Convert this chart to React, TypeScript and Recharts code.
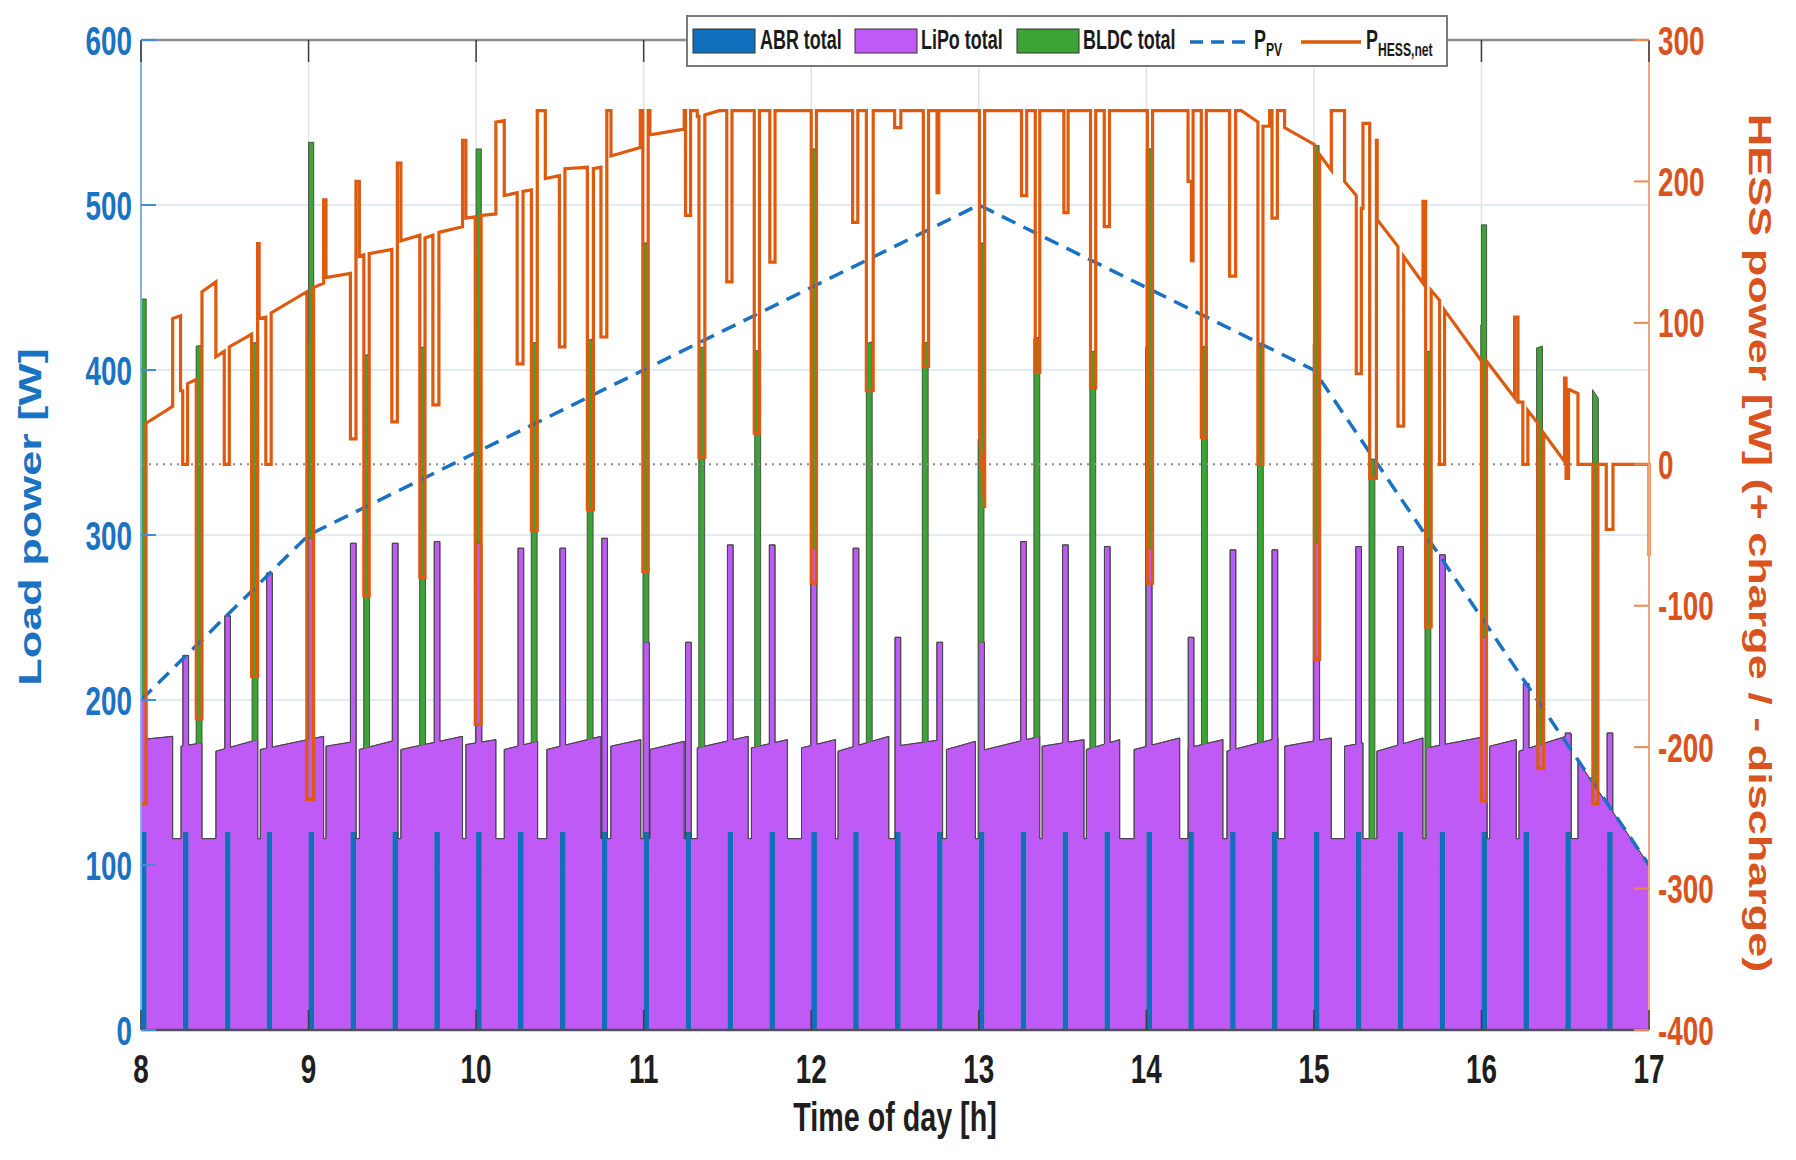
import React from "react";
import {
  Area,
  CartesianGrid,
  ComposedChart,
  Line,
  ReferenceLine,
  XAxis,
  YAxis,
} from "recharts";

// axis ticks
const hourTicks = [8, 9, 10, 11, 12, 13, 14, 15, 16, 17];
const loadTicks = [0, 100, 200, 300, 400, 500, 600];
const hessTicks = [-400, -300, -200, -100, 0, 100, 200, 300];

// ABR pulses (start hour), level in W
const abrPulseHours = [
  8, 8.25, 8.5, 8.75, 9, 9.25, 9.5, 9.75, 10, 10.25, 10.5, 10.75, 11, 11.25,
  11.5, 11.75, 12, 12.25, 12.5, 12.75, 13, 13.25, 13.5, 13.75, 14, 14.25, 14.5,
  14.75, 15, 15.25, 15.5, 15.75, 16, 16.25, 16.5, 16.75,
];
const abrPulseLevel = 120;
const pulseWidth = 0.034;

// ABR + LiPo level during each pulse [hour, W]
const lipoSpikes: [number, number][] = [
  [8, 200], [8.25, 227], [8.5, 251], [8.75, 277], [9, 298], [9.25, 295],
  [9.5, 295], [9.75, 296], [10, 295], [10.25, 292], [10.5, 292], [10.75, 298],
  [11, 235], [11.25, 235], [11.5, 294], [11.75, 294], [12, 292], [12.25, 292],
  [12.5, 238], [12.75, 235], [13, 235], [13.25, 296], [13.5, 294], [13.75, 293],
  [14, 292], [14.25, 238], [14.5, 291], [14.75, 291], [15, 295], [15.25, 293],
  [15.5, 293], [15.75, 288], [16, 238], [16.25, 210], [16.5, 180], [16.75, 180],
];

// ABR + LiPo between pulses: [from h, to h, W at start, W at end]
const lipoSegments: [number, number, number, number][] = [
  [8.0, 8.189, 176, 178], [8.239, 8.364, 172, 174], [8.447, 8.696, 169, 176],
  [8.712, 9.09, 170, 178], [9.104, 9.283, 172, 175], [9.303, 9.531, 170, 176],
  [9.551, 9.919, 170, 178], [9.939, 10.118, 173, 176], [10.168, 10.367, 170, 175],
  [10.422, 10.745, 170, 178], [10.804, 10.983, 172, 176], [11.037, 11.242, 170, 175],
  [11.32, 11.624, 171, 178], [11.643, 11.858, 171, 176], [11.942, 12.145, 171, 176],
  [12.16, 12.463, 169, 178], [12.5, 12.78, 172, 176], [12.807, 12.98, 170, 175],
  [13.0, 13.364, 169, 178], [13.378, 13.628, 172, 176], [13.642, 13.841, 170, 176],
  [13.927, 14.199, 170, 177], [14.249, 14.457, 171, 176], [14.481, 14.786, 169, 177],
  [14.826, 15.104, 172, 177], [15.183, 15.293, 172, 174], [15.376, 15.651, 169, 177],
  [15.671, 16.03, 171, 178], [16.049, 16.208, 172, 176], [16.224, 16.536, 169, 179],
  [16.576, 17.0, 163, 100],
];
const lipoGapLevel = 116;

// BLDC pulses [hour, W]
const bldcPulses: [number, number][] = [
  [8.0, 243], [8.333, 241], [8.667, 241], [9.0, 240], [9.333, 238], [9.667, 241],
  [10.0, 239], [10.333, 242], [10.667, 242], [11.0, 242], [11.333, 242], [11.667, 240],
  [12.0, 242], [12.333, 242], [12.667, 242], [13.0, 242], [13.333, 242], [13.667, 240],
  [14.0, 242], [14.333, 241], [14.667, 242], [15.0, 241], [15.333, 230], [15.667, 240],
  [16.0, 250], [16.333, 241], [16.667, 238],
];
const bldcWidth = 0.035;

// PV power [hour, W]
const pvPoints: [number, number][] = [
  [8, 200], [9, 300], [10, 350], [11, 400], [12, 450],
  [13, 500], [14, 450], [15, 400], [16, 250], [17, 100],
];

// HESS net power [hour, W]
const hessPoints: [number, number][] = [
  [8.0, -240], [8.03, -240], [8.03, 29], [8.189, 41], [8.189, 103], [8.236, 105],
  [8.236, 52], [8.249, 52], [8.249, 0], [8.278, 0], [8.278, 57], [8.33, 60],
  [8.33, -180], [8.364, -180], [8.364, 122], [8.447, 129], [8.447, 76], [8.497, 80],
  [8.497, 0], [8.527, 0], [8.527, 83], [8.66, 92], [8.66, -150], [8.696, -150],
  [8.696, 156], [8.705, 156], [8.705, 103], [8.745, 104], [8.745, 0], [8.777, 0],
  [8.777, 107], [8.99, 122], [8.99, -237], [9.03, -237], [9.03, 125], [9.09, 128],
  [9.09, 187], [9.104, 187], [9.104, 132], [9.25, 135], [9.25, 18], [9.283, 18],
  [9.283, 200], [9.303, 200], [9.303, 147], [9.33, 148], [9.33, -93], [9.362, -93],
  [9.362, 149], [9.497, 152], [9.497, 30], [9.53, 30], [9.53, 213], [9.551, 213],
  [9.551, 158], [9.664, 162], [9.664, -80], [9.695, -80], [9.695, 160], [9.742, 162],
  [9.742, 42], [9.778, 42], [9.778, 164], [9.919, 168], [9.919, 229], [9.939, 229],
  [9.939, 174], [9.995, 175], [9.995, -184], [10.03, -184], [10.03, 176], [10.118, 177],
  [10.118, 242], [10.168, 243], [10.168, 190], [10.245, 192], [10.245, 71], [10.28, 71],
  [10.28, 193], [10.33, 194], [10.33, -47], [10.365, -47], [10.365, 250], [10.413, 250],
  [10.413, 202], [10.497, 204], [10.497, 83], [10.53, 83], [10.53, 209], [10.664, 210],
  [10.664, -32], [10.7, -32], [10.7, 209], [10.745, 210], [10.745, 90], [10.78, 90],
  [10.78, 250], [10.805, 250], [10.805, 218], [10.98, 224], [10.98, 250], [10.995, 250],
  [10.995, -76], [11.027, -76], [11.027, 250], [11.037, 250], [11.037, 233], [11.242, 237],
  [11.242, 250], [11.25, 250], [11.25, 176], [11.28, 176], [11.28, 250], [11.32, 250],
  [11.32, 246], [11.33, 246], [11.33, 5], [11.365, 5], [11.365, 247], [11.45, 250],
  [11.496, 250], [11.496, 129], [11.527, 129], [11.527, 250],
  [11.66, 250], [11.66, 22], [11.691, 22], [11.691, 250],
  [11.753, 250], [11.753, 143], [11.784, 143], [11.784, 250],
  [12.0, 250], [12.0, -84], [12.031, -84], [12.031, 250],
  [12.247, 250], [12.247, 171], [12.278, 171], [12.278, 250],
  [12.329, 250], [12.329, 52], [12.37, 52], [12.37, 250],
  [12.498, 250], [12.498, 238], [12.535, 238], [12.535, 250],
  [12.669, 250], [12.669, 69], [12.7, 69], [12.7, 250],
  [12.751, 250], [12.751, 192], [12.761, 192], [12.761, 250],
  [13.004, 250], [13.004, 24], [13.035, -31], [13.035, 250],
  [13.255, 250], [13.255, 190], [13.286, 190], [13.286, 250],
  [13.337, 250], [13.337, 65], [13.364, 65], [13.364, 250],
  [13.508, 250], [13.508, 178], [13.533, 178], [13.533, 250],
  [13.667, 250], [13.667, 54], [13.698, 54], [13.698, 250],
  [13.749, 250], [13.749, 168], [13.78, 168], [13.78, 250],
  [14.006, 250], [14.006, -84], [14.037, -84], [14.037, 250],
  [14.249, 250], [14.249, 200], [14.269, 200], [14.269, 144], [14.279, 144], [14.279, 250],
  [14.328, 250], [14.328, 19], [14.358, 19], [14.358, 250],
  [14.497, 250], [14.497, 133], [14.533, 133], [14.533, 250],
  [14.567, 250], [14.666, 242], [14.666, 0], [14.696, 0], [14.696, 239], [14.736, 239],
  [14.736, 250], [14.75, 250], [14.75, 174], [14.782, 174], [14.782, 250],
  [14.825, 250], [14.825, 238], [15.004, 226], [15.004, -138], [15.034, -138],
  [15.034, 219], [15.104, 208], [15.104, 250], [15.183, 250], [15.183, 200],
  [15.253, 190], [15.253, 64], [15.283, 64], [15.283, 181], [15.293, 181],
  [15.293, 241], [15.333, 241], [15.333, -10], [15.373, -10], [15.373, 229],
  [15.378, 229], [15.378, 173], [15.502, 154], [15.502, 27], [15.536, 27],
  [15.536, 147], [15.651, 128], [15.651, 186], [15.667, 186], [15.667, -115],
  [15.7, -115], [15.7, 123], [15.75, 116], [15.75, 0], [15.78, 0], [15.78, 109],
  [16.0, 73], [16.0, -238], [16.03, -238], [16.03, 73], [16.198, 47], [16.198, 104],
  [16.218, 104], [16.218, 44], [16.247, 44], [16.247, 0], [16.277, 0], [16.277, 38],
  [16.337, 29], [16.337, -215], [16.371, -215], [16.371, 22], [16.496, 2],
  [16.496, 61], [16.505, 61], [16.505, -10], [16.52, -10], [16.52, 53], [16.576, 50],
  [16.576, 0], [16.665, 0], [16.665, -240], [16.695, -240], [16.695, 0], [16.745, 0],
  [16.745, -46], [16.785, -46], [16.785, 0], [17.0, 0], [17.0, -65],
];

// ---- layout ----
const W = 1780;
const H = 1144;
const PLOT = { left: 133, right: 1641, top: 32, bottom: 1022 };
const SQ = 0.68;
const FONT = "'Liberation Sans', Arial, sans-serif";

const C = {
  abr: "#1170bd",
  lipo: "#bf5af7",
  bldc: "#3ba434",
  pv: "#1a72c2",
  hess: "#de5a0e",
  left: "#1a72c2",
  leftLine: "#7fb2e3",
  right: "#d9531e",
  rightLine: "#f2a57c",
};

// ---- build stacked load table from the event lists ----
function baseLevel(x: number) {
  for (const [s, e, a, b] of lipoSegments) {
    if (x >= s && x < e) return a + ((b - a) * (x - s)) / (e - s);
  }
  return lipoGapLevel;
}

function sample(x: number) {
  const abr = abrPulseHours.some((t) => x >= t && x < t + pulseWidth) ? abrPulseLevel : 0;
  const spike = lipoSpikes.find(([t]) => x >= t && x < t + pulseWidth);
  const total = spike ? spike[1] : baseLevel(x);
  const b = bldcPulses.find(([t]) => x >= t - 0.004 && x < t - 0.004 + bldcWidth);
  return { abr, lipo: total - abr, bldc: b ? b[1] : 0 };
}

function buildLoadRows() {
  const xs = new Set<number>();
  lipoSegments.forEach(([s, e]) => { xs.add(s); xs.add(e); });
  abrPulseHours.forEach((t) => { xs.add(t); xs.add(t + pulseWidth); });
  lipoSpikes.forEach(([t]) => { xs.add(t); xs.add(t + pulseWidth); });
  bldcPulses.forEach(([t]) => { xs.add(t - 0.004); xs.add(t - 0.004 + bldcWidth); });
  const sorted = [...xs].filter((x) => x >= 8 && x <= 17).sort((a, b) => a - b);
  const rows: { h: number; abr: number; lipo: number; bldc: number }[] = [];
  const eps = 1e-6;
  for (const x of sorted) {
    if (x > 8) rows.push({ h: x, ...sample(x - eps) });
    if (x < 17) {
      const r = sample(x + eps);
      const last = rows[rows.length - 1];
      if (!last || last.h !== x || last.abr !== r.abr || Math.abs(last.lipo - r.lipo) > 0.01 || last.bldc !== r.bldc) {
        rows.push({ h: x, ...r });
      }
    }
  }
  return rows;
}

const loadRows = buildLoadRows();
const pvRows = pvPoints.map(([h, pv]) => ({ h, pv }));
const hessRows = hessPoints.map(([h, hess]) => ({ h, hess }));

// ---- ticks ----
function HourTick({ x, payload }: any) {
  return (
    <g>
      <line x1={x} x2={x} y1={PLOT.bottom} y2={PLOT.bottom - 20} stroke="#3c3c3c" strokeWidth={1.5} />
      <line x1={x} x2={x} y1={PLOT.top} y2={PLOT.top + 22} stroke="#3c3c3c" strokeWidth={1.5} />
      <text
        transform={`translate(${x},1075) scale(${SQ},1)`}
        textAnchor="middle"
        fontSize={41}
        fontWeight="bold"
        fill="#1e1e1e"
        fontFamily={FONT}
      >
        {payload.value}
      </text>
    </g>
  );
}

function LoadTick({ y, payload }: any) {
  return (
    <g>
      <line x1={PLOT.left} x2={PLOT.left + 15} y1={y} y2={y} stroke="#3d8fd8" strokeWidth={2} />
      <text
        transform={`translate(124,${y}) scale(${SQ},1)`}
        dy={14.5}
        textAnchor="end"
        fontSize={41}
        fontWeight="bold"
        fill={C.left}
        fontFamily={FONT}
      >
        {payload.value}
      </text>
    </g>
  );
}

function HessTick({ y, payload }: any) {
  return (
    <g>
      <line x1={PLOT.right} x2={PLOT.right - 15} y1={y} y2={y} stroke="#ec8a52" strokeWidth={2} />
      <text
        transform={`translate(1650,${y}) scale(${SQ},1)`}
        dy={14.5}
        textAnchor="start"
        fontSize={41}
        fontWeight="bold"
        fill={C.right}
        fontFamily={FONT}
      >
        {payload.value}
      </text>
    </g>
  );
}

function Legend() {
  const txt = (x: number, children: React.ReactNode) => (
    <g transform={`translate(${x},41) scale(0.64,1)`}>
      <text fontSize={28} fontWeight="bold" fill="#1a1a1a" fontFamily={FONT}>
        {children}
      </text>
    </g>
  );
  return (
    <svg
      width={W}
      height={H}
      style={{ position: "absolute", left: 0, top: 0, pointerEvents: "none" }}
    >
      <rect x={679} y={8} width={760} height={50} fill="#ffffff" stroke="#7a7a7a" strokeWidth={2} />
      <rect x={685} y={21} width={62} height={24} fill={C.abr} stroke="#333" strokeWidth={1} />
      {txt(752, "ABR total")}
      <rect x={847} y={21} width={62} height={24} fill={C.lipo} stroke="#333" strokeWidth={1} />
      {txt(913, "LiPo total")}
      <rect x={1009} y={21} width={62} height={24} fill={C.bldc} stroke="#333" strokeWidth={1} />
      {txt(1075, "BLDC total")}
      <line x1={1182} x2={1242} y1={34} y2={34} stroke={C.pv} strokeWidth={3.5} strokeDasharray="13 8" />
      {txt(1246, <><tspan>P</tspan><tspan fontSize={19} dy={7}>PV</tspan></>)}
      <line x1={1293} x2={1353} y1={34} y2={34} stroke={C.hess} strokeWidth={3.5} />
      {txt(1358, <><tspan>P</tspan><tspan fontSize={19} dy={7}>HESS,net</tspan></>)}
    </svg>
  );
}

export default function App() {
  return (
    <div style={{ position: "relative", width: W, height: H }}>
      <ComposedChart
        width={W}
        height={H}
        data={loadRows}
        margin={{ top: 32, right: 0, bottom: 0, left: 0 }}
      >
        <CartesianGrid yAxisId="left" horizontal={false} stroke="#e2e2e2" strokeWidth={1.5} />
        <CartesianGrid yAxisId="left" vertical={false} stroke="#d9e6f4" strokeWidth={1.5} />

        <Area
          yAxisId="left"
          type="linear"
          dataKey="abr"
          stackId="load"
          fill={C.abr}
          fillOpacity={1}
          stroke="#2b5f8f"
          strokeWidth={0.6}
          isAnimationActive={false}
        />
        <Area
          yAxisId="left"
          type="linear"
          dataKey="lipo"
          stackId="load"
          fill={C.lipo}
          fillOpacity={1}
          stroke="#444444"
          strokeWidth={0.9}
          isAnimationActive={false}
        />
        <Area
          yAxisId="left"
          type="linear"
          dataKey="bldc"
          stackId="load"
          fill={C.bldc}
          fillOpacity={1}
          stroke="#444444"
          strokeWidth={0.9}
          isAnimationActive={false}
        />

        <ReferenceLine yAxisId="right" y={0} stroke="#8a8a8a" strokeWidth={2} strokeDasharray="2 5" />
        <ReferenceLine yAxisId="left" y={600} stroke="#8c8c8c" strokeWidth={2.5} />

        <Line
          yAxisId="left"
          data={pvRows}
          type="linear"
          dataKey="pv"
          stroke={C.pv}
          strokeWidth={3.5}
          strokeDasharray="15 9"
          dot={false}
          activeDot={false}
          isAnimationActive={false}
        />
        <Line
          yAxisId="right"
          data={hessRows}
          type="linear"
          dataKey="hess"
          stroke={C.hess}
          strokeWidth={3.2}
          dot={false}
          activeDot={false}
          isAnimationActive={false}
        />

        <XAxis
          type="number"
          dataKey="h"
          domain={[8, 17]}
          ticks={hourTicks}
          interval={0}
          height={122}
          tickLine={false}
          axisLine={{ stroke: "#505050", strokeWidth: 2.5 }}
          tick={<HourTick />}
          label={{
            value: "Time of day [h]",
            content: () => (
              <text
                transform={`translate(887,1123) scale(0.7,1)`}
                textAnchor="middle"
                fontSize={41}
                fontWeight="bold"
                fill="#1e1e1e"
                fontFamily={FONT}
              >
                Time of day [h]
              </text>
            ),
          }}
        />
        <YAxis
          yAxisId="left"
          domain={[0, 600]}
          ticks={loadTicks}
          interval={0}
          width={133}
          tickLine={false}
          axisLine={{ stroke: C.leftLine, strokeWidth: 2 }}
          tick={<LoadTick />}
          label={{
            value: "Load power [W]",
            content: () => (
              <text
                transform={`translate(22,509) scale(0.7,1) rotate(-90)`}
                dy="0.36em"
                textAnchor="middle"
                fontSize={45}
                fontWeight="bold"
                fill={C.left}
                fontFamily={FONT}
              >
                Load power [W]
              </text>
            ),
          }}
        />
        <YAxis
          yAxisId="right"
          orientation="right"
          domain={[-400, 300]}
          ticks={hessTicks}
          interval={0}
          width={139}
          tickLine={false}
          axisLine={{ stroke: C.rightLine, strokeWidth: 2 }}
          tick={<HessTick />}
          label={{
            value: "HESS power [W] (+ charge / - discharge)",
            content: () => (
              <text
                transform={`translate(1752,535) scale(0.7,1) rotate(90)`}
                dy="0.36em"
                textAnchor="middle"
                fontSize={45}
                fontWeight="bold"
                fill={C.right}
                fontFamily={FONT}
              >
                HESS power [W] (+ charge / - discharge)
              </text>
            ),
          }}
        />
      </ComposedChart>
      <Legend />
    </div>
  );
}
